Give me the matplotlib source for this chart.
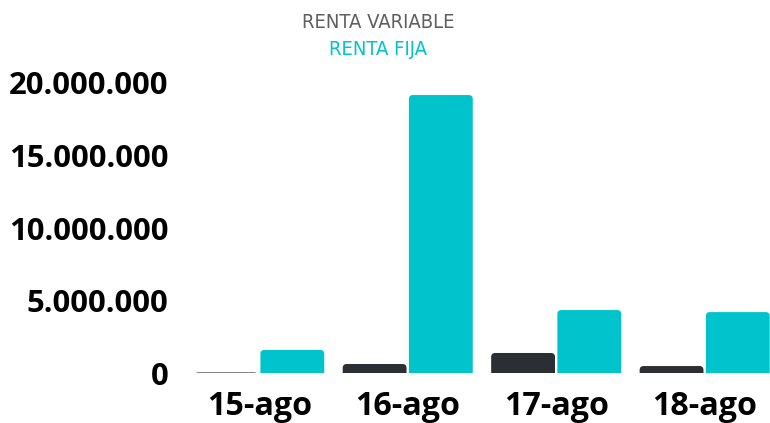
import numpy as np
import matplotlib.pyplot as plt
from matplotlib.patches import FancyBboxPatch
from matplotlib import font_manager

# datos
fechas = ["15-ago", "16-ago", "17-ago", "18-ago"]
renta_variable = [40000, 620000, 1380000, 480000]
renta_fija = [1590000, 19170000, 4340000, 4200000]
yticks = [0, 5000000, 10000000, 15000000, 20000000]

col_var = "#2b2f33"
col_fija = "#00c3cb"

fig = plt.figure(figsize=(7.7, 4.23), dpi=100)
ax = fig.add_axes([185 / 770, 50 / 423, 585 / 770, 290 / 423])

x = np.arange(len(fechas))
w = 0.43
ax.set_xlim(-0.5, 3.44)
ax.set_ylim(0, 20000000)

# tamaño de un pixel en unidades de datos, para las esquinas redondeadas
px_x = (3.44 + 0.5) / 585
px_y = 20000000 / 290
r = 4 * px_x
aspect = px_y / px_x

def barra(x0, alto, color):
    p = FancyBboxPatch((x0, -5 * px_y), w, alto + 5 * px_y,
                       boxstyle="round,pad=0,rounding_size=%f" % r,
                       mutation_aspect=aspect, fc=color, ec="none")
    ax.add_patch(p)

for i in range(len(fechas)):
    barra(x[i] - w - 0.008, renta_variable[i], col_var)
    barra(x[i] + 0.008, renta_fija[i], col_fija)

for s in ax.spines.values():
    s.set_visible(False)
ax.set_xticks(x)
ax.set_xticklabels(fechas, fontsize=23.2, fontweight="bold", family="Open Sans")
ax.set_yticks(yticks)
ax.set_yticklabels(["{:,}".format(v).replace(",", ".") for v in yticks],
                   fontsize=22.3, fontweight="bold", family="Open Sans")
ax.tick_params(length=0, pad=12)
ax.tick_params(axis="x", pad=12)

names = [f.name for f in font_manager.fontManager.ttflist]
leg_font = "Liberation Sans Narrow" if "Liberation Sans Narrow" in names else "DejaVu Sans"
for txt, yy, c in [("RENTA VARIABLE", 22, "#5f5f5f"), ("RENTA FIJA", 49, col_fija)]:
    fig.text(378 / 770, 1 - yy / 423, txt, ha="center", va="center",
             fontsize=14.5, color=c, family=leg_font, fontstretch="condensed")

fig.savefig("out.png", dpi=100)
